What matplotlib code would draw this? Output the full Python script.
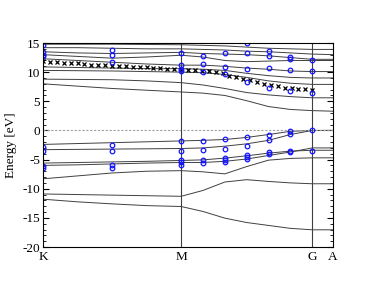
import numpy as np
import matplotlib
matplotlib.use('Agg')
from matplotlib import pyplot as plt
from matplotlib.ticker import MultipleLocator

plt.rcParams['font.family'] = 'Liberation Serif'
plt.rcParams['axes.unicode_minus'] = False

## k-path positions (K=0, M=1)
kTicks = [0.0, 1.0, 1.95, 2.10]
kLabels = ['K', 'M', 'G', 'A']

## grid the bands are read on
kBand = [0.0, 0.25, 0.5, 0.75, 1.0, 1.158, 1.317, 1.475, 1.633, 1.792, 1.95, 2.10]

## bands [eV]
bands = [
    [-11.8, -12.25, -12.6, -12.9, -13.05, -13.9, -15.05, -15.8, -16.3, -16.8, -17.05, -17.05],
    [-10.9, -11.0, -11.1, -11.2, -11.3, -10.3, -8.85, -8.45, -8.75, -9.0, -9.15, -9.15],
    [-8.3, -7.8, -7.3, -7.0, -6.9, -7.1, -7.45, -6.2, -5.1, -4.8, -4.7, -4.7],
    [-6.0, -5.9, -5.75, -5.6, -5.5, -5.5, -5.3, -4.9, -4.3, -3.7, -3.0, -3.0],
    [-5.6, -5.5, -5.4, -5.3, -5.15, -5.05, -4.75, -4.35, -3.9, -3.55, -3.4, -3.4],
    [-3.3, -3.25, -3.2, -3.15, -3.1, -3.0, -2.7, -2.3, -1.7, -0.7, 0.0, 0.0],
    [-2.4, -2.25, -2.1, -1.95, -1.8, -1.7, -1.55, -1.2, -0.7, -0.15, 0.0, 0.0],
    [8.0, 7.6, 7.2, 6.9, 6.6, 6.4, 6.0, 5.1, 4.1, 3.6, 3.4, 3.3],
    [8.8, 8.75, 8.7, 8.5, 8.2, 7.8, 7.2, 6.5, 6.1, 5.8, 5.6, 5.6],
    [10.3, 10.25, 10.2, 10.1, 10.0, 9.9, 9.6, 9.1, 8.5, 8.1, 7.9, 7.9],
    [10.9, 10.8, 10.7, 10.6, 10.6, 10.5, 10.3, 9.8, 9.4, 9.1, 9.0, 9.0],
    [12.3, 12.0, 11.7, 11.4, 11.2, 11.2, 11.0, 10.7, 10.5, 10.2, 10.1, 10.1],
    [13.0, 12.7, 12.4, 12.6, 12.9, 12.6, 12.0, 11.8, 11.9, 12.0, 12.0, 12.0],
    [13.5, 13.3, 13.2, 13.3, 13.4, 13.2, 13.1, 13.0, 12.8, 12.5, 12.2, 12.2],
    [14.2, 14.2, 14.1, 14.0, 14.0, 13.9, 13.8, 13.6, 13.5, 13.3, 13.1, 13.0],
    [14.8, 14.8, 14.8, 14.75, 14.7, 14.6, 14.5, 14.3, 14.1, 14.0, 13.9, 13.9],
]

## open circles at discrete k-points
kCirc = [0.0, 0.5, 1.0, 1.158, 1.317, 1.475, 1.633, 1.792, 1.95]
circE = [
    [14.6, 13.4, 13.0, 12.7, -2.8, -3.6, -6.1, -6.4],
    [13.8, 12.9, 11.7, -2.5, -3.45, -6.0, -6.4],
    [13.25, 11.2, 10.6, 10.2, -1.85, -3.45, -5.1, -5.45, -5.9],
    [12.85, 11.35, 10.1, -1.8, -3.4, -5.05, -5.65],
    [13.25, 10.8, 9.6, -1.55, -3.15, -4.7, -5.1, -5.45],
    [15.0, 13.3, 10.55, 8.3, -1.15, -2.7, -4.25, -4.6, -4.9],
    [13.65, 12.7, 10.7, 7.25, -0.7, -1.7, -3.7, -4.0],
    [12.55, 12.2, 10.45, 6.7, -0.1, -0.6, -3.6, -3.7],
    [12.0, 10.15, 6.5, 0.0, -3.45],
]

## crosses, equally spaced along K-M-G
kCross = np.concatenate([np.linspace(0.0, 1.0, 21), np.linspace(1.0, 1.95, 20)[1:]])
crossE = [11.85, 11.8, 11.7, 11.6, 11.55, 11.5, 11.4, 11.3, 11.25, 11.2, 11.1,
          11.05, 11.0, 10.9, 10.85, 10.8, 10.7, 10.65, 10.6, 10.5, 10.45,
          10.35, 10.3, 10.25, 10.15, 10.0, 9.8, 9.4, 9.1, 8.8, 8.6,
          8.35, 8.05, 7.8, 7.55, 7.35, 7.25, 7.15, 7.05, 6.95]

fig = plt.figure(figsize=(3.76, 2.91), dpi=100)
ax = fig.add_axes([0.1144, 0.1512, 0.7712, 0.7010])

for b in bands:
    ax.plot(kBand, b, '-', color='#404040', lw=0.7)

ax.axhline(0, color='#a0a0a0', ls='--', lw=0.8, dashes=(2, 1.5))
for kk in kTicks[1:3]:
    ax.axvline(kk, color='#404040', lw=0.8)

ax.plot(kCross, crossE, 'x', color='black', ms=3.3, mew=0.9)
for kk, ee in zip(kCirc, circE):
    ax.plot([kk] * len(ee), ee, 'o', mfc='none', mec='#1414ff', ms=3.3, mew=0.9)

ax.set_xlim(0, 2.10)
ax.set_ylim(-20, 15)
ax.set_xticks(kTicks)
ax.set_xticklabels(kLabels)
ax.yaxis.set_major_locator(MultipleLocator(5))
ax.yaxis.set_minor_locator(MultipleLocator(1))
ax.tick_params(axis='y', which='both', direction='in', right=True, labelsize=9.5, pad=2)
ax.tick_params(axis='y', which='major', length=4)
ax.tick_params(axis='y', which='minor', length=2)
ax.tick_params(axis='x', length=0, labelsize=9.5, pad=3)
ax.set_ylabel('Energy [eV]', fontsize=9.5)
ax.yaxis.set_label_coords(-0.09, 0.5)
for s in ax.spines.values():
    s.set_linewidth(0.8)

fig.savefig('out.png', dpi=100)
